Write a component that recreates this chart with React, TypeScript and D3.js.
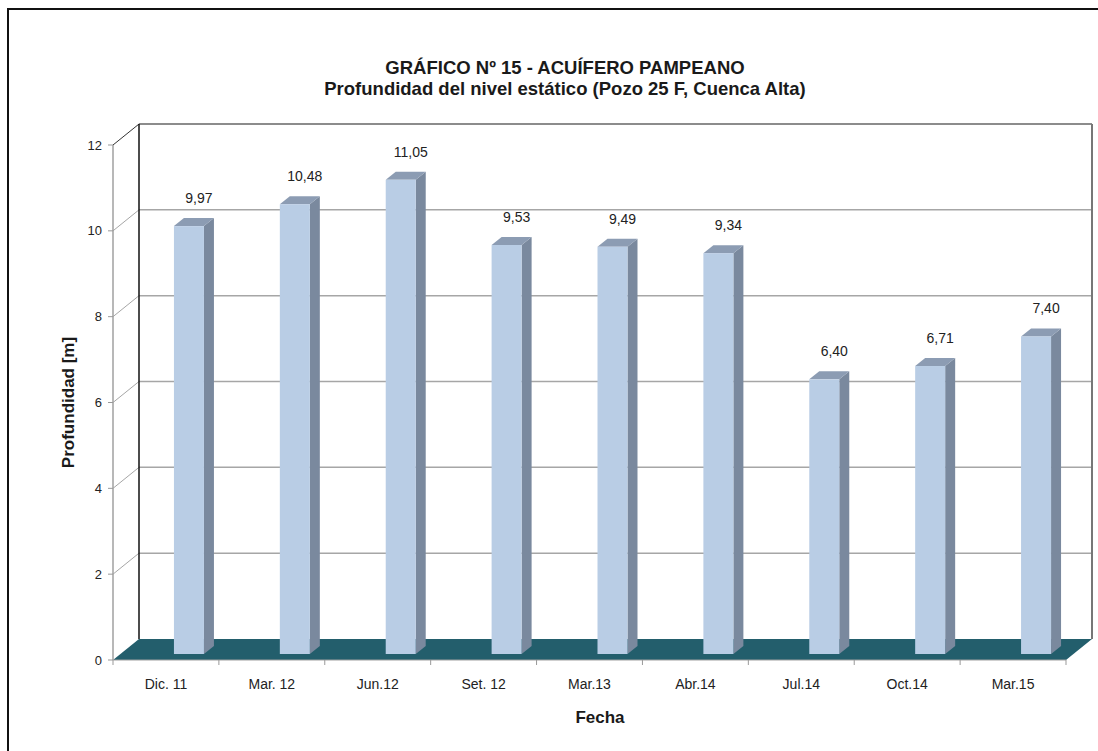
import React, { useEffect, useRef } from 'react';
import * as d3 from 'd3';

const categories = ['Dic. 11', 'Mar. 12', 'Jun.12', 'Set. 12', 'Mar.13', 'Abr.14', 'Jul.14', 'Oct.14', 'Mar.15'];
const values = [9.97, 10.48, 11.05, 9.53, 9.49, 9.34, 6.40, 6.71, 7.40];
const yTicks = [0, 2, 4, 6, 8, 10, 12];

const titleLines = ['GRÁFICO Nº 15 - ACUÍFERO PAMPEANO', 'Profundidad del nivel estático (Pozo 25 F, Cuenca Alta)'];
const yTitle = 'Profundidad [m]';
const xTitle = 'Fecha';

const App: React.FC = () => {
  const svgRef = useRef<SVGSVGElement>(null);

  useEffect(() => {
    if (!svgRef.current) return;
    const svg = d3.select(svgRef.current);
    svg.selectAll('*').remove();

    const font = 'Liberation Sans, Arial, sans-serif';

    // plot box (front plane) and depth of the 3D walls
    const left = 113, right = 1066, bottom = 660, top = 145;
    const depthX = 26, depthY = -21;
    const barDX = 10, barDY = -8, barLift = 6, barW = 30;

    const x = d3.scaleBand<string>().domain(categories).range([left, right]);
    const y = d3.scaleLinear().domain([0, 12]).range([bottom, top]);
    const yBack = (v: number) => y(v) + depthY;
    const yBar = (v: number) => y(v) - barLift;

    // outer frame (right/bottom edges lie outside the picture)
    svg.append('rect')
      .attr('x', 8).attr('y', 9)
      .attr('width', 1200).attr('height', 900)
      .attr('fill', 'white')
      .attr('stroke', '#111').attr('stroke-width', 2);

    // title
    svg.append('g')
      .selectAll('text')
      .data(titleLines)
      .enter()
      .append('text')
      .attr('x', 565)
      .attr('y', (_, i) => 74 + i * 21)
      .attr('text-anchor', 'middle')
      .attr('font-family', font)
      .attr('font-weight', 'bold')
      .attr('font-size', 18.5)
      .attr('fill', '#1a1a1a')
      .text(d => d);

    // back wall
    svg.append('rect')
      .attr('x', left + depthX).attr('y', yBack(12))
      .attr('width', right - left).attr('height', yBack(0) - yBack(12))
      .attr('fill', 'white');

    // gridlines on the back wall and the left wall
    const grid = svg.append('g');
    grid.selectAll('line.back')
      .data(yTicks.filter(t => t > 0 && t < 12))
      .enter()
      .append('line')
      .attr('class', 'back')
      .attr('x1', left + depthX).attr('x2', right + depthX)
      .attr('y1', d => yBack(d)).attr('y2', d => yBack(d))
      .attr('stroke', '#a6a6a6').attr('stroke-width', 1.5);
    grid.selectAll('line.side')
      .data(yTicks.filter(t => t > 0))
      .enter()
      .append('line')
      .attr('class', 'side')
      .attr('x1', left).attr('x2', left + depthX)
      .attr('y1', d => y(d)).attr('y2', d => yBack(d))
      .attr('stroke', d => (d === 12 ? '#333' : '#a6a6a6')).attr('stroke-width', 1);

    // wall edges
    svg.append('line')
      .attr('x1', left + depthX).attr('x2', right + depthX)
      .attr('y1', yBack(12)).attr('y2', yBack(12))
      .attr('stroke', '#8c8c8c').attr('stroke-width', 2);
    svg.append('line')
      .attr('x1', right + depthX).attr('x2', right + depthX)
      .attr('y1', yBack(12)).attr('y2', yBack(0))
      .attr('stroke', '#777').attr('stroke-width', 2);
    svg.append('line')
      .attr('x1', left + depthX).attr('x2', left + depthX)
      .attr('y1', yBack(12)).attr('y2', yBack(0))
      .attr('stroke', '#111').attr('stroke-width', 1.5);

    // floor
    svg.append('polygon')
      .attr('points', [
        [left, y(0)], [left + depthX, yBack(0)], [right + depthX, yBack(0)], [right, y(0)]
      ].map(p => p.join(',')).join(' '))
      .attr('fill', '#235e6c');

    // front y axis
    const axisG = svg.append('g');
    axisG.append('line')
      .attr('x1', left).attr('x2', left)
      .attr('y1', y(12)).attr('y2', y(0))
      .attr('stroke', '#a0a0a0').attr('stroke-width', 1.5);
    axisG.selectAll('line.tick')
      .data(yTicks)
      .enter()
      .append('line')
      .attr('class', 'tick')
      .attr('x1', left - 5).attr('x2', left)
      .attr('y1', d => y(d)).attr('y2', d => y(d))
      .attr('stroke', '#999');
    axisG.selectAll('text')
      .data(yTicks)
      .enter()
      .append('text')
      .attr('x', left - 11)
      .attr('y', d => y(d))
      .attr('dy', '0.35em')
      .attr('text-anchor', 'end')
      .attr('font-family', font)
      .attr('font-size', 13)
      .attr('fill', '#222')
      .text(d => d);

    // front x axis
    axisG.append('line')
      .attr('x1', left).attr('x2', right)
      .attr('y1', y(0)).attr('y2', y(0))
      .attr('stroke', '#a0a0a0').attr('stroke-width', 1);
    axisG.selectAll('line.xtick')
      .data(categories.map((_, i) => i).concat([categories.length]))
      .enter()
      .append('line')
      .attr('class', 'xtick')
      .attr('x1', i => left + i * x.bandwidth()).attr('x2', i => left + i * x.bandwidth())
      .attr('y1', y(0)).attr('y2', y(0) + 5)
      .attr('stroke', '#999');
    axisG.selectAll('text.xlabel')
      .data(categories)
      .enter()
      .append('text')
      .attr('class', 'xlabel')
      .attr('x', d => (x(d) as number) + x.bandwidth() / 2)
      .attr('y', 689)
      .attr('text-anchor', 'middle')
      .attr('font-family', font)
      .attr('font-size', 14)
      .attr('fill', '#222')
      .text(d => d);

    // bars
    const barX = (c: string) => (x(c) as number) + x.bandwidth() / 2 + 8;
    const bars = svg.append('g')
      .selectAll('g')
      .data(categories.map((c, i) => ({ c, v: values[i] })))
      .enter()
      .append('g');

    bars.append('polygon')
      .attr('points', d => {
        const x0 = barX(d.c) + barW;
        return [[x0, yBar(d.v)], [x0 + barDX, yBar(d.v) + barDY], [x0 + barDX, yBar(0) + barDY], [x0, yBar(0)]]
          .map(p => p.join(',')).join(' ');
      })
      .attr('fill', '#7a899e');
    bars.append('polygon')
      .attr('points', d => {
        const x0 = barX(d.c);
        return [[x0, yBar(d.v)], [x0 + barDX, yBar(d.v) + barDY], [x0 + barW + barDX, yBar(d.v) + barDY], [x0 + barW, yBar(d.v)]]
          .map(p => p.join(',')).join(' ');
      })
      .attr('fill', '#8c9cb3');
    bars.append('rect')
      .attr('x', d => barX(d.c))
      .attr('y', d => yBar(d.v))
      .attr('width', barW)
      .attr('height', d => yBar(0) - yBar(d.v))
      .attr('fill', '#b9cde5');

    // value labels
    bars.append('text')
      .attr('x', d => barX(d.c) + barW / 2 + 10)
      .attr('y', d => yBar(d.v) - 28)
      .attr('dy', '0.35em')
      .attr('text-anchor', 'middle')
      .attr('font-family', font)
      .attr('font-size', 14)
      .attr('fill', '#222')
      .text(d => d3.format('.2f')(d.v).replace('.', ','));

    // axis titles
    svg.append('text')
      .attr('transform', `translate(68,${(y(0) + y(12)) / 2}) rotate(-90)`)
      .attr('text-anchor', 'middle')
      .attr('dy', '0.35em')
      .attr('font-family', font)
      .attr('font-weight', 'bold')
      .attr('font-size', 17)
      .attr('fill', '#1a1a1a')
      .text(yTitle);
    svg.append('text')
      .attr('x', 600)
      .attr('y', 717)
      .attr('dy', '0.35em')
      .attr('text-anchor', 'middle')
      .attr('font-family', font)
      .attr('font-weight', 'bold')
      .attr('font-size', 17)
      .attr('fill', '#1a1a1a')
      .text(xTitle);
  }, []);

  return (
    <svg
      ref={svgRef}
      width={1098}
      height={751}
      style={{ position: 'absolute', left: 0, top: 0, background: 'white' }}
    />
  );
};

export default App;
